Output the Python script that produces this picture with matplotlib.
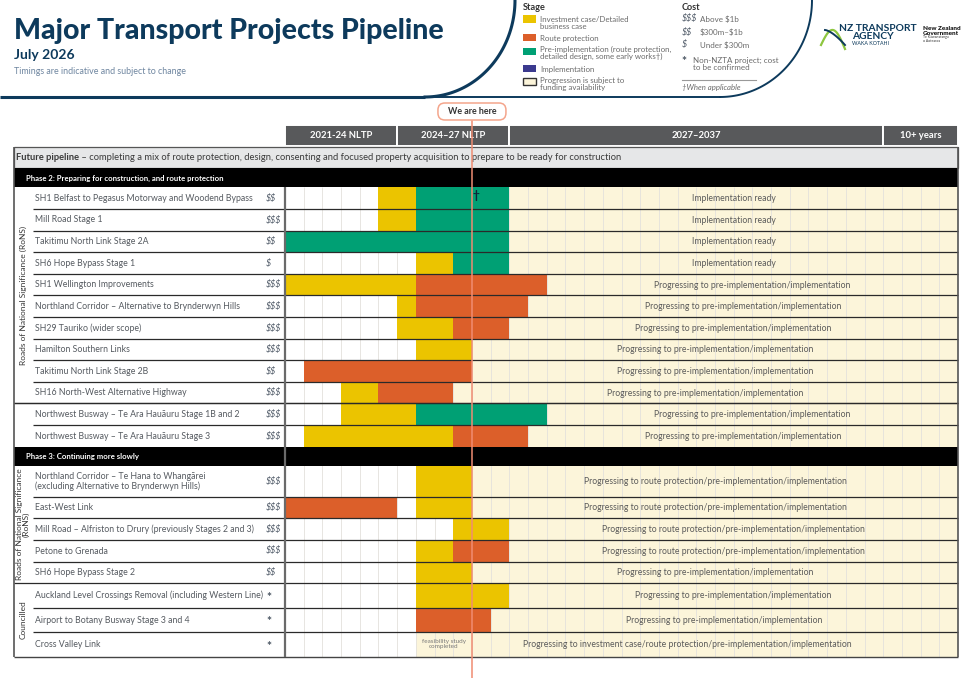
import matplotlib
matplotlib.use("Agg")
import matplotlib.pyplot as plt
from matplotlib.patches import Rectangle, FancyBboxPatch
from matplotlib.transforms import blended_transform_factory
import numpy as np

plt.rcParams['font.family'] = ['Lato', 'DejaVu Sans']
plt.rcParams['text.parse_math'] = False

# ---------------- data ----------------
# timeline in years counted from July 2021
periods = ["2021-24 NLTP", "2024–27 NLTP", "2027–2037", "10+ years"]
period_edges = [0, 3, 6, 16, 18]
now = 5.0  # July 2026

READY = "Implementation ready"
PI = "Progressing to pre-implementation/implementation"
RP = "Progressing to route protection/pre-implementation/implementation"
IC = "Progressing to investment case/route protection/pre-implementation/implementation"

p2_names = [
    "SH1 Belfast to Pegasus Motorway and Woodend Bypass",
    "Mill Road Stage 1",
    "Takitimu North Link Stage 2A",
    "SH6 Hope Bypass Stage 1",
    "SH1 Wellington Improvements",
    "Northland Corridor – Alternative to Brynderwyn Hills",
    "SH29 Tauriko (wider scope)",
    "Hamilton Southern Links",
    "Takitimu North Link Stage 2B",
    "SH16 North-West Alternative Highway",
    "Northwest Busway – Te Ara Hauāuru Stage 1B and 2",
    "Northwest Busway – Te Ara Hauāuru Stage 3",
]
p2_costs = ["$$", "$$$", "$$", "$", "$$$", "$$$", "$$$", "$$$", "$$", "$$$", "$$$", "$$$"]
p2_bars = [
    [("inv", 2.5, 3.5), ("pre", 3.5, 6)],
    [("inv", 2.5, 3.5), ("pre", 3.5, 6)],
    [("pre", 0, 6)],
    [("inv", 3.5, 4.5), ("pre", 4.5, 6)],
    [("inv", 0, 3.5), ("rp", 3.5, 7)],
    [("inv", 3, 3.5), ("rp", 3.5, 6.5)],
    [("inv", 3, 4.5), ("rp", 4.5, 6)],
    [("inv", 3.5, 5)],
    [("rp", 0.5, 5)],
    [("inv", 1.5, 2.5), ("rp", 2.5, 4.5)],
    [("inv", 1.5, 3.5), ("pre", 3.5, 7)],
    [("inv", 0.5, 4.5), ("rp", 4.5, 6.5)],
]
p2_cream = [6, 6, 6, 6, 7, 6.5, 6, 5, 5, 4.5, 7, 6.5]
p2_notes = [READY] * 4 + [PI] * 8

p3_names = [
    "Northland Corridor – Te Hana to Whangārei\n(excluding Alternative to Brynderwyn Hills)",
    "East-West Link",
    "Mill Road – Alfriston to Drury (previously Stages 2 and 3)",
    "Petone to Grenada",
    "SH6 Hope Bypass Stage 2",
    "Auckland Level Crossings Removal (including Western Line)",
    "Airport to Botany Busway Stage 3 and 4",
    "Cross Valley Link",
]
p3_costs = ["$$$", "$$$", "$$$", "$$$", "$$", "*", "*", "*"]
p3_bars = [
    [("inv", 3.5, 5)],
    [("rp", 0, 3), ("inv", 3.5, 5)],
    [("inv", 4.5, 6)],
    [("inv", 3.5, 4.5), ("rp", 4.5, 6)],
    [("inv", 3.5, 5)],
    [("inv", 3.5, 6)],
    [("rp", 3.5, 5.5)],
    [],
]
p3_cream = [5, 5, 6, 6, 5, 6, 5.5, 3.5]
p3_notes = [RP] * 4 + [PI] * 3 + [IC]

dagger_at = 5.12  # first Phase 2 project

stage_colors = {"inv": "#EBC400", "rp": "#DC5F2A", "pre": "#00A074", "impl": "#3B3A8F"}
CREAM = "#FCF5DA"
NAVY = "#0D3A5C"
TXT = "#555a60"

# ---------------- layout ----------------
W, H = 969, 678
X0, X1 = 285, 958
fig = plt.figure(figsize=(W / 100, H / 100), dpi=100)
ax = fig.add_axes([X0 / W, 0, (X1 - X0) / W, 1], zorder=1)
ax.set_xlim(period_edges[0], period_edges[-1])
ax.set_ylim(H, 0)
ax.axis('off')
bg = fig.add_axes([0, 0, 1, 1], zorder=2)
bg.set_xlim(0, W)
bg.set_ylim(H, 0)
bg.axis('off')
tr = blended_transform_factory(ax.transData, bg.transData)

p2_top = 187.3
p2_heights = [21.6] * 12
p3_bar_top = p2_top + sum(p2_heights)
p3_top = p3_bar_top + 19.5
p3_heights = [30.7, 21.6, 21.6, 21.6, 21.6, 24.5, 24.5, 24.5]
table_bottom = p3_top + sum(p3_heights)

# ---------------- header ----------------
bg.text(14, 31, "Major Transport Projects Pipeline", fontsize=20.5, fontweight='black',
        color=NAVY, va='center')
bg.text(14, 55, "July 2026", fontsize=10, fontweight='bold', color=NAVY, va='center')
bg.text(14, 72, "Timings are indicative and subject to change", fontsize=6.4,
        color="#6f86a0", va='center')

t = np.linspace(0, np.pi / 2, 60)
bg.plot([0, 425], [97, 97], color=NAVY, lw=2.2, solid_capstyle='butt')
bg.plot(425 + 90 * np.cos(t), 97 * np.sin(t), color=NAVY, lw=2.2)
bg.plot([425, 720], [97, 97], color=NAVY, lw=1.4)
bg.plot(720 + 92 * np.cos(t), 97 * np.sin(t), color=NAVY, lw=1.4)

# legend: stage
bg.text(523, 7, "Stage", fontsize=6.6, fontweight='bold', color="#333333", va='center')
leg_items = [("inv", 19, "Investment case/Detailed\nbusiness case", 22.8),
             ("rp", 37.5, "Route protection", 38.3),
             ("pre", 51.2, "Pre-implementation (route protection,\ndetailed design, some early works†)", 53.3),
             ("impl", 68.8, "Implementation", 69.3),
             (None, 81.2, "Progression is subject to\nfunding availability", 84.3)]
for key, ys, label, yt in leg_items:
    if key:
        bg.add_patch(Rectangle((523, ys - 3.6), 13, 7.2, fc=stage_colors[key], ec='none'))
    else:
        bg.add_patch(Rectangle((523, ys - 3.6), 13, 7.2, fc=CREAM, ec="#333333", lw=1.0))
    bg.text(540, yt, label, fontsize=5.7, color="#6a6a6a", va='center', linespacing=0.95)

# legend: cost
bg.text(682, 7, "Cost", fontsize=6.6, fontweight='bold', color="#333333", va='center')
for sym, label, yy in [("$$$", "Above $1b", 19), ("$$", "$300m–$1b", 32.3), ("$", "Under $300m", 45)]:
    bg.text(682, yy, sym, fontsize=6.4, style='italic', color="#4a5563", va='center')
    bg.text(700, yy, label, fontsize=5.8, color="#6a6a6a", va='center')
bg.text(684, 61.5, "*", fontsize=8.5, fontweight='bold', color="#4a5563", va='center', ha='center')
bg.text(693, 64.3, "Non-NZTA project; cost\nto be confirmed", fontsize=5.8, color="#6a6a6a",
        va='center', linespacing=0.95)
bg.plot([682, 756], [80.3, 80.3], color="#999999", lw=0.8)
bg.text(682, 87.5, "†When applicable", fontsize=5.6, style='italic', color="#6a6a6a", va='center')

# logos
s = np.linspace(0, 1, 40)
bg.plot(821 + 24 * s, 45 - 17 * np.sin(np.pi * s) + 4 * s, color="#8DC63F", lw=1.6)
bg.plot(825 + 20 * s, 30 + 15 * s ** 1.5, color=NAVY, lw=1.4)
bg.text(839, 28.5, "NZ TRANSPORT", fontsize=7.4, fontweight='bold', color=NAVY, va='center')
bg.text(852.5, 36.8, "AGENCY", fontsize=7.4, fontweight='bold', color=NAVY, va='center')
bg.text(852.5, 43.5, "WAKA KOTAHI", fontsize=3.8, color=NAVY, va='center')
bg.text(923, 29, "New Zealand", fontsize=4.6, fontweight='black', color="#111111", va='center')
bg.text(923, 33.5, "Government", fontsize=4.6, fontweight='black', color="#111111", va='center')
bg.text(923, 38.8, "Te Kāwanatanga\no Aotearoa", fontsize=2.5, color="#333333", va='center',
        linespacing=1.0)

# ---------------- timeline header ----------------
for i, name in enumerate(periods):
    a, b = period_edges[i], period_edges[i + 1]
    ax.barh(135.5, b - a, left=a, height=21, color="#58595B", edgecolor="white", linewidth=1.4)
    ax.text((a + b) / 2, 136, name, fontsize=6.8, fontweight='bold', color="white",
            ha='center', va='center')

# future pipeline row
bg.add_patch(Rectangle((14, 147), X1 - 14, 21.3, fc="#E6E7E8", ec="#555555", lw=0.9, zorder=1))
t1 = bg.text(16, 157.7, "Future pipeline", fontsize=6.75, fontweight='bold', color="#3a3a3a",
             va='center', zorder=3)
bg.annotate(" – completing a mix of route protection, design, consenting and focused property "
            "acquisition to prepare to be ready for construction",
            xy=(1, 0.5), xycoords=t1, va='center', fontsize=6.75, color="#3a3a3a", zorder=3)

# phase bars
bg.add_patch(Rectangle((14, 168.3), X1 - 14, p2_top - 168.3, fc="black", ec='none', zorder=1))
bg.text(26, 178, "Phase 2: Preparing for construction, and route protection", fontsize=5.6,
        fontweight='bold', color="white", va='center', zorder=3)
bg.add_patch(Rectangle((14, p3_bar_top), X1 - 14, p3_top - p3_bar_top, fc="black", ec='none', zorder=1))
bg.text(26, p3_bar_top + 9.6, "Phase 3: Continuing more slowly", fontsize=5.6,
        fontweight='bold', color="white", va='center', zorder=3)

# half-year grid
ax.vlines(np.arange(0.5, period_edges[-1], 0.5), p2_top, table_bottom, color="#e3e1dc",
          lw=0.6, zorder=2)


def draw_phase(top, heights, names, costs, bars, cream, notes, group_breaks):
    y = top
    for i, h in enumerate(heights):
        yc = y + h / 2
        ax.barh(yc, period_edges[-1] - cream[i], left=cream[i], height=h, color=CREAM,
                linewidth=0, zorder=1)
        for stage, a, b in bars[i]:
            ax.barh(yc, b - a, left=a, height=h, color=stage_colors[stage], linewidth=0, zorder=3)
        ax.text((cream[i] + period_edges[-1]) / 2, yc + 0.5, notes[i], fontsize=6.2,
                color="#5a5a5a", ha='center', va='center', zorder=4)
        bg.text(35, yc + 0.3, names[i], fontsize=6.3, color=TXT, va='center', linespacing=1.05)
        if costs[i] == "*":
            bg.text(269, yc + 1.8, "*", fontsize=8.5, fontweight='bold', color="#4a5563",
                    va='center', ha='center')
        else:
            bg.text(266, yc + 0.3, costs[i], fontsize=6.4, style='italic', color="#4a5563",
                    va='center')
        y += h
        if i < len(heights) - 1:
            x_start = 14 if (i + 1) in group_breaks else 33
            bg.hlines(y, x_start, X1, color="#2a2a2a", lw=0.9)
    return y


draw_phase(p2_top, p2_heights, p2_names, p2_costs, p2_bars, p2_cream, p2_notes, [10])
draw_phase(p3_top, p3_heights, p3_names, p3_costs, p3_bars, p3_cream, p3_notes, [5])

# "feasibility study completed" note in Cross Valley Link row
cv_mid = p3_top + sum(p3_heights[:-1]) + p3_heights[-1] / 2
ax.text(4.25, cv_mid, "feasibility study\ncompleted", fontsize=4.6, color="#777777",
        ha='center', va='center', linespacing=0.95, zorder=4)

# dagger on first row
ax.text(dagger_at, p2_top + 8.5, "†", fontsize=8.5, fontweight='bold', color="#0b2438",
        ha='center', va='center', zorder=5)

# group labels
bg.text(23, p2_top + sum(p2_heights[:10]) / 2, "Roads of National Significance (RoNS)",
        rotation=90, fontsize=6.0, color="#333333", ha='center', va='center')
bg.text(23, p3_top + sum(p3_heights[:5]) / 2, "Roads of National Significance\n(RoNS)",
        rotation=90, fontsize=6.0, color="#333333", ha='center', va='center', linespacing=0.9)
bg.text(23, p3_top + sum(p3_heights[:5]) + sum(p3_heights[5:]) / 2, "Councilled",
        rotation=90, fontsize=6.0, color="#333333", ha='center', va='center')

# borders
bg.hlines(p2_top + sum(p2_heights[:10]), 14, X1, color="#2a2a2a", lw=0.9)
bg.hlines(table_bottom, 14, X1, color="#444444", lw=1.0)
bg.vlines(14, 147, table_bottom, color="#555555", lw=1.2)
bg.vlines(X1, 147, table_bottom, color="#555555", lw=1.2)
bg.vlines(X0, p2_top, table_bottom, color="#6a6a6a", lw=1.6)

# we are here
now_px = X0 + now * (X1 - X0) / period_edges[-1]
bg.plot([now, now], [120.5, H], transform=tr, color="#F08C72", lw=1.1, zorder=10)
bg.add_patch(FancyBboxPatch((now_px - 34, 103), 68, 17, boxstyle="round,pad=0,rounding_size=7",
                            fc="white", ec="#F4A58C", lw=1.1, zorder=11))
bg.text(now_px, 111.5, "We are here", fontsize=6.4, fontweight='bold', color="#333333",
        ha='center', va='center', zorder=12)

fig.savefig("out.png", dpi=100)
